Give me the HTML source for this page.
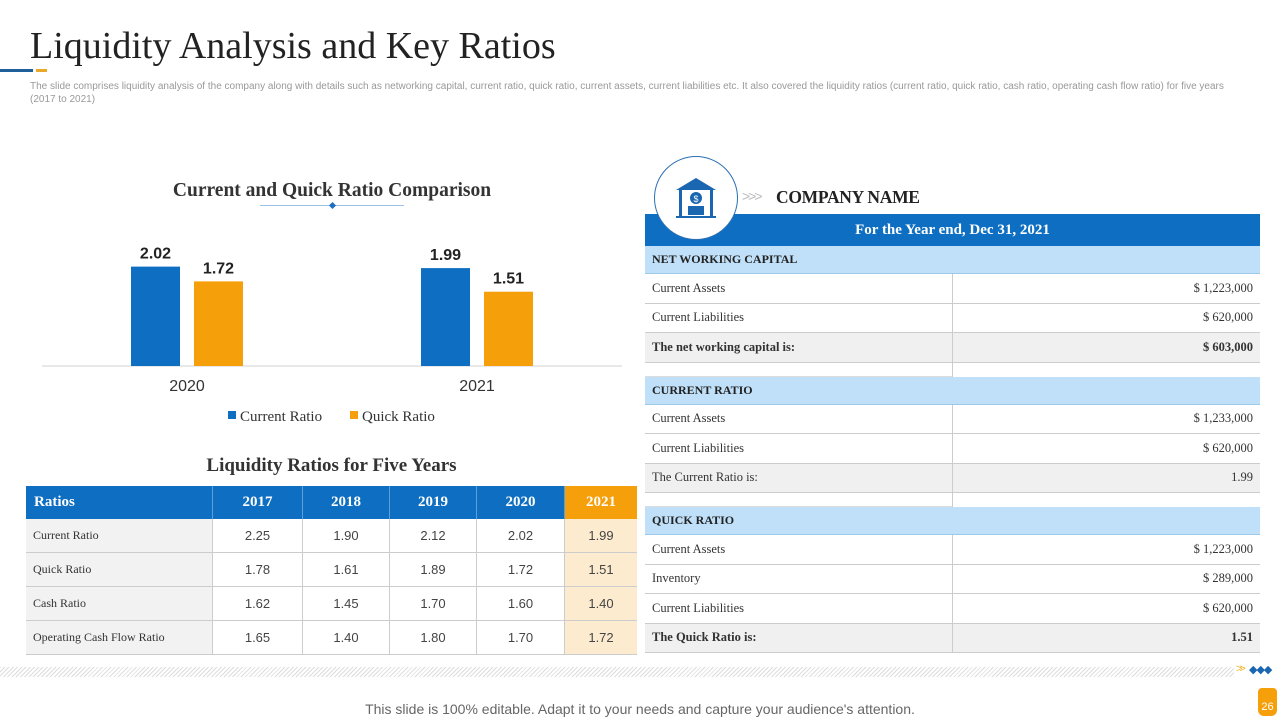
<!DOCTYPE html>
<html><head><meta charset="utf-8"><style>
*{margin:0;padding:0;box-sizing:border-box}
body{width:1280px;height:720px;background:#fff;position:relative;overflow:hidden;font-family:"Liberation Sans",sans-serif}
.abs{position:absolute}
.serif{font-family:"Liberation Serif",serif}
.cell{position:absolute;display:flex;align-items:center;font-size:12px;color:#333}
</style></head><body>
<div class="abs serif" style="left:30px;top:23px;font-size:38px;color:#222;line-height:46px">Liquidity Analysis and Key Ratios</div>
<div class="abs" style="left:0;top:69px;width:33px;height:3px;background:#1f5f9a"></div>
<div class="abs" style="left:36px;top:69px;width:11px;height:3px;background:#e8a92a"></div>
<div class="abs" style="left:30px;top:80px;width:1222px;font-size:10px;color:#999;line-height:13px">The slide comprises liquidity analysis of the company along with details such as networking capital, current ratio, quick ratio, current assets, current liabilities etc. It also covered the liquidity ratios (current ratio, quick ratio, cash ratio, operating cash flow ratio) for five years (2017 to 2021)</div>

<div class="abs serif" style="left:42px;top:180px;width:580px;text-align:center;font-size:19.5px;font-weight:bold;color:#333">Current and Quick Ratio Comparison</div>
<div class="abs" style="left:260px;top:205px;width:144px;height:1px;background:#9cc3e6"></div>
<div class="abs" style="left:330px;top:203px;width:5px;height:5px;background:#1f6fc0;transform:rotate(45deg)"></div>
<svg class="abs" id="chart" style="left:0;top:230px" width="640" height="200"></svg>
<script>
const categories=["2020","2021"];
const currentRatio=[2.02,1.99];
const quickRatio=[1.72,1.51];
const seriesNames=["Current Ratio","Quick Ratio"];
const colors=["#0e6fc2","#f59f0a"];
(function(){
const svg=document.getElementById('chart');const NS="http://www.w3.org/2000/svg";
const baseY=136, scale=49.2, groupCenters=[187,477];
const y=v=>baseY-v*scale;
function el(t,a,txt){const e=document.createElementNS(NS,t);for(const k in a)e.setAttribute(k,a[k]);if(txt!=null)e.textContent=txt;svg.appendChild(e);return e;}
const ax=el('line',{x1:42,x2:622,y1:baseY,y2:baseY,stroke:'#d0d0d0','stroke-width':1});

[currentRatio,quickRatio].forEach((s,si)=>{s.forEach((v,i)=>{
const x=groupCenters[i]+(si===0?-56:7);
const r=el('rect',{x:x,y:y(v),width:49,height:baseY-y(v),fill:colors[si]});


const t=el('text',{x:x+24.5,y:y(v)-8,'text-anchor':'middle','font-size':16,'font-weight':'bold',fill:'#222','font-family':'Liberation Sans'},v.toFixed(2));

});});
categories.forEach((c,i)=>{const t=el('text',{x:groupCenters[i],y:baseY+25,'text-anchor':'middle','font-size':16,fill:'#333','font-family':'Liberation Sans'},c);
});
const lx=[228,350];
seriesNames.forEach((n,i)=>{const r=el('rect',{x:lx[i],y:181,width:8,height:8,fill:colors[i]});

const t=el('text',{x:lx[i]+12,y:191,'font-size':15,fill:'#333','font-family':'Liberation Serif'},n);
});
})();
</script>

<div class="abs serif" style="left:26px;top:455px;width:611px;text-align:center;font-size:19px;font-weight:bold;color:#333">Liquidity Ratios for Five Years</div>
<div class="abs" id="rt" style="left:26px;top:486px;width:611px;height:170px"></div>
<script>
const years=["2017","2018","2019","2020","2021"];
const rowNames=["Current Ratio","Quick Ratio","Cash Ratio","Operating Cash Flow Ratio"];
const rowVals=[["2.25","1.90","2.12","2.02","1.99"],["1.78","1.61","1.89","1.72","1.51"],["1.62","1.45","1.70","1.60","1.40"],["1.65","1.40","1.80","1.70","1.72"]];
(function(){
const t=document.getElementById('rt');const cx=[0,186,276,363,450,538,611];
function c(x,y,w,h,bg,txt,st,name){const d=document.createElement('div');d.className='cell';
d.style.cssText+=`left:${x}px;top:${y}px;width:${w}px;height:${h}px;background:${bg};${st}`;d.textContent=txt;


t.appendChild(d);}
c(0,0,186,33,'#0e6fc2','Ratios','color:#fff;font-family:Liberation Serif;font-weight:bold;font-size:15px;padding-left:8px;','header-ratios');
years.forEach((yv,i)=>c(cx[i+1],0,cx[i+2]-cx[i+1],33,i===4?'#f59f0a':'#0e6fc2',yv,'color:#fff;font-family:Liberation Serif;font-weight:bold;font-size:15px;justify-content:center;border-left:1px solid #5c9fd9;','header-year'));
rowNames.forEach((n,r)=>{const y=33+r*34;
c(0,y,186,34,'#f2f2f2',n,'font-family:Liberation Serif;padding-left:7px;border-bottom:1px solid #ccc;','row-label');
rowVals[r].forEach((v,i)=>c(cx[i+1],y,cx[i+2]-cx[i+1],34,i===4?'#fdebd0':'#fff',v,'justify-content:center;font-size:13px;color:#444;border-left:1px solid #ccc;border-bottom:1px solid #ccc;','row-value'));});
})();
</script>

<div class="abs" style="left:654px;top:156px;width:84px;height:84px;border-radius:50%;border:1px solid #2a6fb5;background:#fff;z-index:2;display:flex;align-items:center;justify-content:center">
<svg width="44" height="44" viewBox="0 0 44 44"><polygon points="22,2 2,14 42,14" fill="#1a66b0"/><rect x="5" y="14" width="3" height="26" fill="#1a66b0"/><rect x="36" y="14" width="3" height="26" fill="#1a66b0"/><circle cx="22" cy="22" r="6" fill="#1a66b0"/><text x="22" y="26" text-anchor="middle" font-size="9" fill="#fff" font-family="Liberation Sans">$</text><rect x="14" y="30" width="16" height="9" fill="#1a66b0"/><rect x="2" y="40" width="40" height="2" fill="#1a66b0"/></svg></div>
<div class="abs" style="left:742px;top:188px;font-size:14px;color:#bbb;letter-spacing:-2px">&gt;&gt;&gt;</div>
<div class="abs serif" style="left:776px;top:187px;font-size:17.5px;font-weight:bold;color:#222;letter-spacing:-0.3px">COMPANY NAME</div>
<div class="abs" id="ft" style="left:645px;top:214px;width:615px;height:442px"></div>
<script>
const sections=[
{title:"NET WORKING CAPITAL",rows:[["Current  Assets","$ 1,223,000"],["Current  Liabilities","$ 620,000"]],total:["The net working capital is:","$ 603,000",true]},
{title:"CURRENT RATIO",rows:[["Current  Assets","$ 1,233,000"],["Current  Liabilities","$ 620,000"]],total:["The Current  Ratio is:","1.99",false]},
{title:"QUICK RATIO",rows:[["Current  Assets","$ 1,223,000"],["Inventory","$ 289,000"],["Current  Liabilities","$ 620,000"]],total:["The Quick Ratio is:","1.51",true]}];
(function(){
const t=document.getElementById('ft');
function c(x,y,w,h,bg,txt,st,name){const d=document.createElement('div');d.className='cell serif';
d.style.cssText+=`left:${x}px;top:${y}px;width:${w}px;height:${h}px;background:${bg};${st}`;d.textContent=txt;


t.appendChild(d);return d;}
c(0,0,615,32,'#0e6fc2','For the Year end, Dec 31, 2021','color:#fff;font-weight:bold;font-size:15px;justify-content:center;','year-header');
let y=32;
sections.forEach((s,si)=>{
c(0,y,615,28,'#bfe0f8',s.title,'font-weight:bold;font-size:12px;padding-left:7px;color:#222;border-bottom:1px solid #9cc8ea;','section-header');y+=28;
s.rows.concat([s.total]).forEach((r,ri)=>{const tot=ri===s.rows.length;const bg=tot?'#f0f0f0':'#fff';
const w=tot&&r[2]?'font-weight:bold;':'';
c(0,y,307,29.5,bg,r[0],'padding-left:7px;font-size:12.5px;border-bottom:1px solid #ccc;'+w,'row-label');
c(307,y,308,29.5,bg,r[1],'justify-content:flex-end;padding-right:7px;font-size:12.5px;border-left:1px solid #ccc;border-bottom:1px solid #ccc;'+w,'row-value');y+=29.5;});
if(si<2){c(0,y,307,14,'#fff','','border-bottom:1px solid #ddd;','spacer');c(307,y,308,14,'#fff','','border-left:1px solid #ccc;','spacer');y+=14;}
});
})();
</script>

<div class="abs" style="left:0;top:667px;width:1234px;height:10px;background:repeating-linear-gradient(135deg,#ddd 0 1px,#fff 1px 3px)"></div>
<div class="abs" style="left:1236px;top:663px;font-size:11px;color:#f0b429;letter-spacing:-3px">&gt;&gt;</div>
<div class="abs" style="left:1249px;top:663px;font-size:11px;color:#1a66b0;letter-spacing:-1px">◆◆◆</div>
<div class="abs" style="left:1258px;top:688px;width:19px;height:28px;background:#f59f0a;border-radius:4px 4px 6px 6px;color:#fff;font-size:11px;font-family:'Liberation Sans',sans-serif;display:flex;align-items:flex-end;justify-content:center;padding-bottom:3px">26</div>
<div class="abs" style="left:0;top:701px;width:1280px;text-align:center;font-size:14px;color:#666">This slide is 100% editable. Adapt it to your needs and capture your audience's attention.</div>
</body></html>
